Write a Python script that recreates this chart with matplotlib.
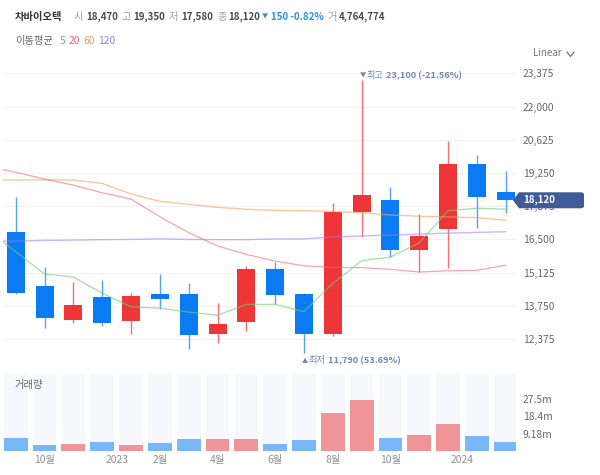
import matplotlib
matplotlib.use("Agg")
import matplotlib.pyplot as plt
from matplotlib.lines import Line2D
from matplotlib.patches import Polygon

plt.rcParams["font.family"] = ["Noto Sans CJK KR", "DejaVu Sans"]

W, H = 600, 475

# monthly candles (the last one is the current month)
opens = [18240, 14570, 13170, 14110, 13130, 14230, 14230, 12590, 13070, 15290,
         14230, 12590, 17630, 18120, 16070, 16930, 19610, 18470]
closes = [14270, 13240, 13800, 13030, 14160, 14040, 12540, 12980, 15290, 14200,
          12590, 17630, 18340, 16070, 16640, 19610, 18270, 18120]
tops = [16800, 14570, 13800, 14110, 14160, 14230, 14230, 12980, 15290, 15290,
        14230, 17630, 18340, 18120, 16640, 19610, 19610, 18470]
bottoms = [14270, 13240, 13170, 13030, 13130, 14040, 12540, 12590, 13070, 14200,
           12590, 12590, 17630, 16070, 16070, 16930, 18270, 18120]
highs = [18240, 15340, 14750, 14820, 14270, 15070, 14680, 13850, 15410, 15550,
         14290, 17990, 23100, 18680, 17550, 20590, 19990, 19350]
lows = [14230, 12820, 13030, 12930, 12580, 13630, 11960, 12220, 12710, 13820,
        11790, 12500, 16610, 15770, 15150, 15310, 16960, 17580]
is_up = [False, False, True, False, True, False, False, True, True, False,
         False, True, True, False, True, True, False, False]

# moving averages, first value is the month left of the visible window
ma5 = [16930, 15990, 15070, 14940, 14270, 13710, 13650, 13490, 13360, 13810,
       13810, 13510, 14680, 15620, 15770, 16360, 17690, 17790, 17750]
ma20 = [19520, 19280, 19000, 18750, 18430, 18170, 17440, 16780, 16230, 15880,
        15600, 15410, 15340, 15330, 15260, 15150, 15200, 15220, 15430]
ma60 = [18960, 18960, 18970, 18960, 18820, 18380, 18080, 17950, 17830, 17750,
        17700, 17690, 17660, 17600, 17510, 17460, 17430, 17400, 17290]
ma120 = [16430, 16430, 16460, 16470, 16490, 16500, 16520, 16500, 16490, 16490,
         16520, 16520, 16600, 16640, 16680, 16720, 16760, 16790, 16820]

volumes = [6.9, 3.2, 3.7, 5.0, 3.2, 4.3, 6.4, 6.4, 6.4, 3.7,
           5.9, 20.3, 27.4, 6.9, 8.7, 14.2, 7.8, 4.76]

price_ticks = [23375, 22000, 20625, 19250, 17875, 16500, 15125, 13750, 12375]
volume_ticks = [9.18, 18.4, 27.5]
volume_tick_labels = ["9.18m", "18.4m", "27.5m"]
month_ticks = [1, 3.5, 5, 7, 9, 11, 13, 15.5]
month_labels = ["10월", "2023", "2월", "4월", "6월", "8월", "10월", "2024"]

BLUE = "#0a7bf2"
RED = "#ee3537"
BLUE_SOFT = "#7ab7f8"
RED_SOFT = "#f09497"
TRACK = "#f6f8fb"
GRID = "#f3f3f3"
GRAY = "#666666"
DARK = "#333333"
LABEL = "#8e8e8e"
NAVY = "#6f86b8"
FS = 7.4
FS_NUM = 7.0

X_STEP = 28.83
X0 = 15.7
LEFT_PX, RIGHT_PX = 3, 516


def fx(px):
    return px / W


def fy(px):
    return 1 - px / H


def axes_px(top, bottom):
    return fig.add_axes([fx(LEFT_PX), fy(bottom), fx(RIGHT_PX - LEFT_PX), (bottom - top) / H])


def label(px, py, text, color=DARK, weight="normal", size=FS):
    fig.text(fx(px), fy(py), text, color=color, fontweight=weight, fontsize=size,
             ha="left", va="center", zorder=6)


fig = plt.figure(figsize=(W / 100, H / 100), dpi=100, facecolor="white")

xlim = ((LEFT_PX - X0) / X_STEP, (RIGHT_PX - X0) / X_STEP)
idx = list(range(len(opens)))
ma_idx = list(range(-1, len(opens)))

# price panel
ax = axes_px(60, 365)
ax.set_xlim(xlim)
per_px = 1375 / 33.2
ax.set_ylim(12375 - 26 * per_px, 12375 + 279 * per_px)
ax.set_yticks(price_ticks)
ax.set_yticklabels([f"{v:,}" for v in price_ticks], fontsize=FS, color=GRAY)
ax.yaxis.tick_right()
ax.tick_params(axis="y", length=0, pad=5)
ax.set_xticks([])
ax.grid(axis="y", color=GRID, linewidth=0.8)
ax.set_axisbelow(True)
for spine in ax.spines.values():
    spine.set_visible(False)

candle_colors = [RED if up else BLUE for up in is_up]
ax.vlines(idx, lows, highs, colors=candle_colors, linewidth=1.0, alpha=0.7, zorder=2)
ax.bar(idx, [t - b for t, b in zip(tops, bottoms)], bottom=bottoms, width=0.624,
       color=candle_colors, linewidth=0, zorder=3)

# lines sit over the candles, see-through
ax.plot(ma_idx, ma120, color="#a678f2", linewidth=1.0, alpha=0.55, zorder=4)
ax.plot(ma_idx, ma60, color="#f2a35e", linewidth=1.0, alpha=0.6, zorder=4)
ax.plot(ma_idx, ma20, color="#ea6c7c", linewidth=0.9, alpha=0.6, zorder=4)
ax.plot(ma_idx, ma5, color="#6fcf6f", linewidth=0.9, alpha=0.65, zorder=5)

# high / low markers
ax.annotate("▼", (12, 23100), xytext=(-1.5, 3.2), textcoords="offset points",
            fontsize=4.5, color=NAVY, va="center", annotation_clip=False)
ax.annotate("최고", (12, 23100), xytext=(3.8, 3.2), textcoords="offset points",
            fontsize=6.6, color=NAVY, va="center", annotation_clip=False)
ax.annotate("23,100 (-21.56%)", (12, 23100), xytext=(17.2, 3.2), textcoords="offset points",
            fontsize=6.6, color=NAVY, fontweight="bold", va="center", annotation_clip=False)
ax.annotate("▲", (10, 11790), xytext=(-1.5, -5.6), textcoords="offset points",
            fontsize=4.5, color=NAVY, va="center", annotation_clip=False)
ax.annotate("최저", (10, 11790), xytext=(3.2, -5.6), textcoords="offset points",
            fontsize=6.6, color=NAVY, va="center", annotation_clip=False)
ax.annotate("11,790 (53.69%)", (10, 11790), xytext=(17.2, -5.6), textcoords="offset points",
            fontsize=6.6, color=NAVY, fontweight="bold", va="center", annotation_clip=False)

# volume panel
ax_vol = axes_px(374, 451)
ax_vol.set_xlim(xlim)
ax_vol.set_ylim(0, 41)
ax_vol.bar(idx, [41] * len(idx), width=0.82, color=TRACK, linewidth=0, zorder=1)
ax_vol.bar(idx, volumes, width=0.83, linewidth=0, zorder=2,
           color=[RED_SOFT if up else BLUE_SOFT for up in is_up])
ax_vol.set_yticks(volume_ticks)
ax_vol.set_yticklabels(volume_tick_labels, fontsize=FS, color=GRAY)
ax_vol.yaxis.tick_right()
ax_vol.set_xticks(month_ticks)
ax_vol.set_xticklabels(month_labels, fontsize=FS, color=LABEL)
ax_vol.tick_params(axis="y", length=0, pad=5)
ax_vol.tick_params(axis="x", length=0, pad=3)
for spine in ax_vol.spines.values():
    spine.set_visible(False)
label(15, 385, "거래량", color=GRAY)

# header
label(15, 17, "차바이오텍", weight="bold")
for px, text in [(74, "시"), (122, "고"), (169, "저"), (217, "종"), (328, "거")]:
    label(px, 17, text, color="#a0a0a0")
for px, text in [(86, "18,470"), (133.5, "19,350"), (181, "17,580"), (228.5, "18,120"),
                 (339, "4,764,774")]:
    label(px, 17, text, color="#4a4a4a", weight="bold", size=FS_NUM)
label(262, 17, "▼", color="#2f8fe8", size=4.5)
label(271, 17, "150 -0.82%", color="#2f8fe8", weight="bold", size=FS_NUM)

label(15, 41, "이동평균", color=GRAY)
for px, text, color in [(60, "5", "#62bf68"), (69, "20", "#e2636f"),
                        (83, "60", "#e89a6c"), (98, "120", "#9a7ae2")]:
    label(px, 41, text, color=color)

label(533, 53, "Linear", color="#777777", size=7)
fig.add_artist(Line2D([fx(567), fx(570.5), fx(574)], [fy(52), fy(56.5), fy(52)],
                      color="#666666", linewidth=0.8))

# current price tag
close_y = ax.transData.transform((0, closes[-1]))[1]
tag_x = [513, 519, 582, 584, 584, 582, 519]
tag_y = [0, 8, 8, 6.5, -6.5, -8, -8]
fig.add_artist(Polygon([(x, close_y + y) for x, y in zip(tag_x, tag_y)], closed=True,
                       transform=None, facecolor="#3f5b98", edgecolor="none", zorder=5))
label(523, H - close_y, f"{closes[-1]:,}", color="white", weight="bold", size=FS_NUM)

fig.savefig("out.png", dpi=100)
